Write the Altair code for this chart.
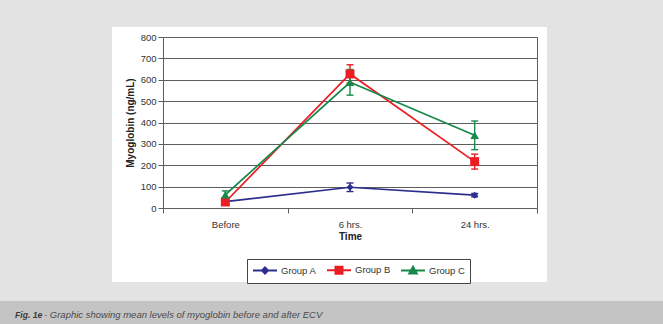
import altair as alt
import pandas as pd

# ---- data ----
times = ["Before", "6 hrs.", "24 hrs."]
groups = ["Group A", "Group B", "Group C"]
group_a_mean = [30, 97, 60]
group_a_err = [4, 20, 8]
group_b_mean = [28, 627, 217]
group_b_err = [8, 43, 35]
group_c_mean = [62, 588, 340]
group_c_err = [18, 60, 67]
y_ticks = [0, 100, 200, 300, 400, 500, 600, 700, 800]

colors = ["#2b2e8c", "#ec1c24", "#17894b"]
marker_shapes = ["diamond", "square", "triangle-up"]
marker_sizes = [50, 80, 75]
legend_paths = [
    "M-2.4,0H2.4M0,-0.6L0.6,0L0,0.6L-0.6,0Z",
    "M-2.4,0H2.4M-0.7,-0.7H0.7V0.7H-0.7Z",
    "M-2.4,0H2.4M0,-0.75L0.75,0.6H-0.75Z",
]
caption_bold = "Fig. 1e"
caption_rest = "- Graphic showing mean levels of myoglobin before and after ECV"

rows = []
for g, means, errs in zip(groups, [group_a_mean, group_b_mean, group_c_mean],
                          [group_a_err, group_b_err, group_c_err]):
    for t, m, e in zip(times, means, errs):
        rows.append({"group": g, "time": t, "mean": m, "lo": m - e, "hi": m + e})
df = pd.DataFrame(rows)

FONT = "Liberation Sans"
GRID = "#5e5e5e"

x_axis = alt.Axis(title="Time", labelAngle=0, tickBand="extent", tickSize=5,
                  labelPadding=6, titlePadding=3, domainColor=GRID, tickColor=GRID,
                  labelColor="#333333", labelFontSize=9.5, labelFont=FONT,
                  titleFont=FONT, titleFontSize=10, titleFontWeight="bold",
                  titleColor="#222222")
y_axis = alt.Axis(title="Myoglobin (ng/mL)", values=y_ticks, labelOverlap=False,
                  grid=True, gridColor=GRID,
                  gridWidth=1, domainColor=GRID, tickColor=GRID, tickSize=5,
                  labelPadding=2, labelColor="#333333", labelFontSize=9.5, labelFont=FONT,
                  titleFont=FONT, titleFontSize=10, titleFontWeight="bold",
                  titleColor="#222222", titlePadding=5)
yscale = alt.Scale(domain=[0, 800], nice=False)
x_enc = alt.X("time:N", sort=times, scale=alt.Scale(paddingInner=0, paddingOuter=0),
              axis=x_axis)


def Y(field):
    return alt.Y(field, scale=yscale, axis=y_axis)


cscale = alt.Scale(domain=groups, range=colors)
leg = alt.Legend(title=None)
col = alt.Color("group:N", scale=cscale, legend=leg)

base = alt.Chart(df)

lines = base.mark_line(strokeWidth=1.7).encode(x=x_enc, y=Y("mean:Q"), color=col)

err_rule = base.mark_rule(strokeWidth=1.4).encode(
    x=x_enc, y=Y("lo:Q"), y2="hi:Q", color=col)
cap_lo = base.mark_tick(size=7, thickness=1.4, opacity=1).encode(
    x=x_enc, y=Y("lo:Q"), color=col)
cap_hi = base.mark_tick(size=7, thickness=1.4, opacity=1).encode(
    x=x_enc, y=Y("hi:Q"), color=col)

point_layers = []
for g, shp, sz in zip(groups, marker_shapes, marker_sizes):
    point_layers.append(
        base.transform_filter(alt.datum.group == g)
        .mark_point(filled=True, opacity=1, shape=shp, size=sz)
        .encode(x=x_enc, y=Y("mean:Q"), color=col)
    )

legend_layer = base.transform_filter("false").mark_point(
    filled=True, opacity=1, strokeWidth=2).encode(
    x=x_enc, y=Y("mean:Q"),
    color=col,
    stroke=alt.Stroke("group:N", scale=cscale, legend=leg),
    shape=alt.Shape("group:N", scale=alt.Scale(domain=groups, range=legend_paths), legend=leg),
)

one = alt.Data(values=[{"k": 1}])
LIGHT = "#e3e3e3"
BAR = "#c4c4c4"


def strip(x1, x2, y1, y2, fill):
    return alt.Chart(one).mark_rect(fill=fill).encode(
        x=alt.value(x1), x2=alt.value(x2), y=alt.value(y1), y2=alt.value(y2))


strips = [
    strip(-163, 500, -37, -10, LIGHT),
    strip(-163, -51, -37, 264, LIGHT),
    strip(384, 500, -37, 264, LIGHT),
    strip(-163, 500, 245, 264, LIGHT),
    strip(-163, 500, 264, 287, BAR),
]

cap1 = alt.Chart(one).mark_text(
    text=caption_bold, font=FONT, fontSize=8.6, fontStyle="italic", fontWeight="bold",
    color="#3a3a3a", align="left", baseline="middle").encode(
    x=alt.value(-148), y=alt.value(278))
cap2 = alt.Chart(one).mark_text(
    text=caption_rest, font=FONT, fontSize=9.5, fontStyle="italic",
    color="#4a4a4a", align="left", baseline="middle").encode(
    x=alt.value(-119), y=alt.value(278))

chart = alt.layer(
    *strips, lines, err_rule, cap_lo, cap_hi, *point_layers, legend_layer, cap1, cap2
).properties(
    width=374, height=171,
    padding={"left": 163, "top": 37, "right": 126, "bottom": 116},
    autosize=alt.AutoSizeParams(type="none"),
    background="white",
).configure_view(
    stroke=GRID, strokeWidth=1
).configure_legend(
    orient="none", legendX=84, legendY=222, direction="horizontal",
    strokeColor="#444444", fillColor="white", padding=5,
    symbolSize=100, symbolStrokeWidth=2, labelFont=FONT, labelFontSize=9.5,
    labelColor="#333333", labelOffset=10, symbolOffset=7, columnPadding=6,
    cornerRadius=0,
)

chart.save("out.html", embed_options={"renderer": "svg", "actions": False})
